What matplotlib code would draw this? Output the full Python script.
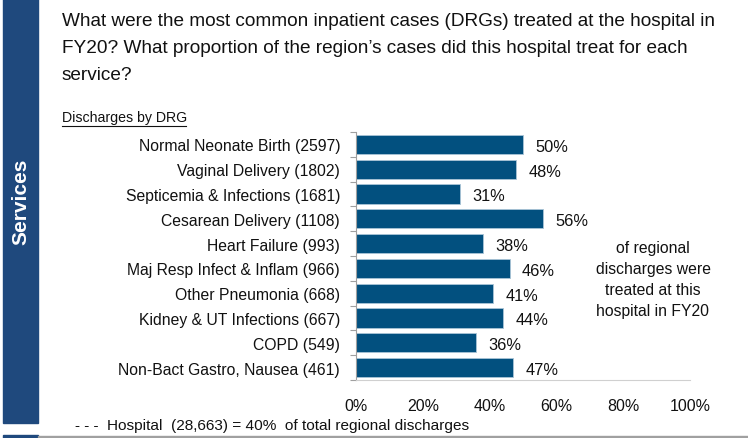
import matplotlib.pyplot as plt
import matplotlib.patches as patches

plt.rcParams['font.family'] = ['Liberation Sans', 'DejaVu Sans']

drgs = ['Normal Neonate Birth (2597)', 'Vaginal Delivery (1802)',
        'Septicemia & Infections (1681)', 'Cesarean Delivery (1108)',
        'Heart Failure (993)', 'Maj Resp Infect & Inflam (966)',
        'Other Pneumonia (668)', 'Kidney & UT Infections (667)',
        'COPD (549)', 'Non-Bact Gastro, Nausea (461)']
share = [50, 48, 31, 56, 38, 46, 41, 44, 36, 47]
xticks = [0, 20, 40, 60, 80, 100]

title = ("What were the most common inpatient cases (DRGs) treated at the hospital in\n"
         "FY20? What proportion of the region\u2019s cases did this hospital treat for each\n"
         "service?")
side_note = "of regional\ndischarges were\ntreated at this\nhospital in FY20"
footer = "- - -  Hospital  (28,663) = 40%  of total regional discharges"

W, H = 748, 439
fig = plt.figure(figsize=(W / 100, H / 100), dpi=100)

# left section band
fig.patches.append(patches.Rectangle((3 / W, 1 - 424 / H), 35 / W, 424 / H,
                                     transform=fig.transFigure, color='#1F497D'))
fig.patches.append(patches.Rectangle((3 / W, 0), 35 / W, 3 / H,
                                     transform=fig.transFigure, color='#1F497D'))
fig.patches.append(patches.Rectangle((38 / W, 1 / H), (W - 38) / W, 1.5 / H,
                                     transform=fig.transFigure, color='#A0A0A0'))
fig.text(21 / W, 1 - 202 / H, 'Services', rotation=90, color='white',
         fontsize=15, fontweight='bold', ha='center', va='center')

fig.text(62 / W, 1 - 13 / H, title, fontsize=13.7, ha='left', va='top',
         linespacing=1.75, color='#111111')
fig.text(62 / W, 1 - 118 / H, 'Discharges by DRG', fontsize=10.2,
         ha='left', va='center', color='#111111')
fig.add_artist(plt.Line2D([62 / W, 186 / W], [1 - 126.5 / H, 1 - 126.5 / H],
                          color='#111111', lw=0.8))

ax = fig.add_axes([356 / W, 1 - 381 / H, (690 - 356) / W, (381 - 133) / H])
y = list(range(len(drgs)))
ax.barh(y, share, height=0.78, color='#02507F', edgecolor='#A9C4D6', linewidth=0.6)
for yi, v in zip(y, share):
    ax.text(v + 3.7, yi + 0.08, f'{v}%', fontsize=11.8,
            va='center', ha='left', color='#111111')

ax.set_xlim(0, 100)
ax.set_ylim(len(drgs) - 0.5, -0.5)
ax.set_yticks(y)
ax.set_yticklabels(drgs, fontsize=11.3, color='#111111')
ax.set_yticks([i - 0.5 for i in range(len(drgs) + 1)], minor=True)
ax.tick_params(axis='y', which='major', length=0, pad=11.5)
ax.tick_params(axis='y', which='minor', length=4, color='#A0A0A0', width=0.8)
ax.set_xticks(xticks)
ax.set_xticklabels([f'{t}%' for t in xticks], fontsize=11.5, color='#111111')
ax.tick_params(axis='x', length=0, pad=13)
for s in ['top', 'right']:
    ax.spines[s].set_visible(False)
ax.spines['left'].set_color('#A0A0A0')
ax.spines['bottom'].set_color('#D0D0D0')

fig.text(653 / W, 1 - 280 / H, side_note, fontsize=11.3,
         ha='center', va='center', linespacing=1.5, color='#111111')
fig.text(75 / W, 1 - 426 / H, footer, fontsize=11.1,
         ha='left', va='center', color='#111111')

fig.savefig('out.png', dpi=100)
